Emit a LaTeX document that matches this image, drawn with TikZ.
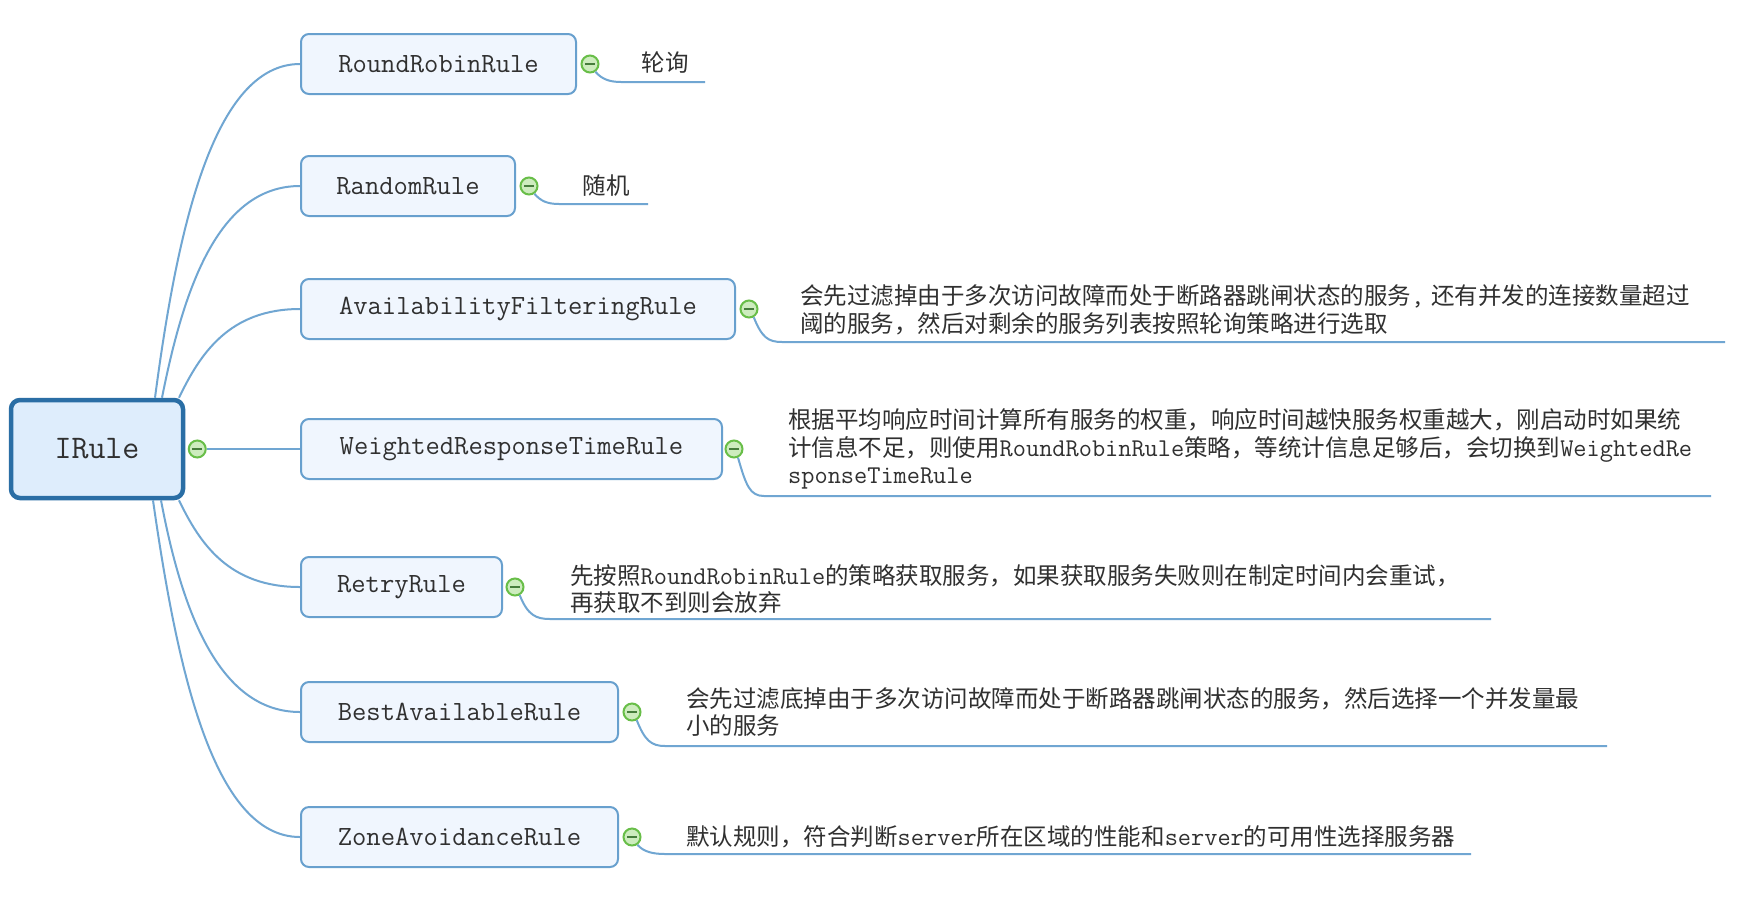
\documentclass[tikz,border=0pt]{standalone}
\usepackage{fontspec}
\newfontfamily\cjk{Noto Sans CJK SC}
\newfontfamily\lab{Latin Modern Mono}
\newcommand\mono[1]{{\lab\fontsize{25.6}{27.5}\selectfont #1}}
\definecolor{linec}{RGB}{112,166,210}
\definecolor{childborder}{RGB}{104,160,206}
\definecolor{childfill}{RGB}{240,246,254}
\definecolor{rootborder}{RGB}{42,110,165}
\definecolor{rootfill}{RGB}{222,237,252}
\definecolor{togring}{RGB}{104,190,72}
\definecolor{togfill}{RGB}{205,236,190}
\definecolor{togminus}{RGB}{70,125,60}
\definecolor{textc}{RGB}{48,48,48}
\begin{document}
\begin{tikzpicture}[x=1pt,y=-1pt,
  conn/.style={draw=linec, line width=2pt},
  child/.style={draw=childborder, fill=childfill, rounded corners=8pt, line width=2pt,
    minimum height=60pt, anchor=west, inner sep=0pt, text=textc,
    font=\lab\fontsize{27.8}{30}\selectfont},
  root/.style={draw=rootborder, fill=rootfill, rounded corners=9pt, line width=4.5pt,
    minimum width=172pt, minimum height=98pt, inner sep=0pt, text=textc,
    font=\lab\fontsize{33}{36}\selectfont},
  tog/.style={circle, draw=togring, fill=togfill, line width=2pt, minimum size=17pt, inner sep=0pt,
    path picture={\draw[togminus, line width=1.8pt]
      ([xshift=-5pt]path picture bounding box.center) -- ([xshift=5pt]path picture bounding box.center);}},
  desc/.style={anchor=west, align=left, inner sep=0pt, text=textc,
    font=\cjk\fontsize{23.5}{27.5}\selectfont},
  shortdesc/.style={anchor=center, inner sep=0pt, text=textc,
    font=\cjk\fontsize{23.5}{27.5}\selectfont}
]
\useasboundingbox[fill=white] (0,0) rectangle (1760,898);

% root
\node[root] (irule) at (97,449) {IRule};
\node[tog] (t0) at ([xshift=12pt]irule.east) {};

% children
\node[child, minimum width=275pt] (rr) at (300,64) {RoundRobinRule};
\node[child, minimum width=214pt] (rd) at (300,186) {RandomRule};
\node[child, minimum width=434pt] (av) at (300,309) {AvailabilityFilteringRule};
\node[child, minimum width=421pt] (wr) at (300,449) {WeightedResponseTimeRule};
\node[child, minimum width=201pt] (rt) at (300,587) {RetryRule};
\node[child, minimum width=317pt] (ba) at (300,712) {BestAvailableRule};
\node[child, minimum width=317pt] (za) at (300,837) {ZoneAvoidanceRule};

% connectors from root
\draw[conn] ([xshift=58pt]irule.north) .. controls (177,231) and (213,64) .. (rr.west);
\draw[conn] ([xshift=65pt]irule.north) .. controls (183,292) and (217,186) .. (rd.west);
\draw[conn] ([xshift=82pt]irule.north) .. controls (200,354) and (229,309) .. (av.west);
\draw[conn] (t0.east) -- (wr.west);
\draw[conn] ([xshift=82pt]irule.south) .. controls (200,544) and (229,587) .. (rt.west);
\draw[conn] ([xshift=64pt]irule.south) .. controls (181,606) and (217,712) .. (ba.west);
\draw[conn] ([xshift=56pt]irule.south) .. controls (177,668) and (213,837) .. (za.west);

% toggles
\node[tog] (t1) at ([xshift=13pt]rr.east) {};
\node[tog] (t2) at ([xshift=13pt]rd.east) {};
\node[tog] (t3) at ([xshift=13pt]av.east) {};
\node[tog] (t4) at ([xshift=11pt]wr.east) {};
\node[tog] (t5) at ([xshift=12pt]rt.east) {};
\node[tog] (t6) at ([xshift=13pt]ba.east) {};
\node[tog] (t7) at ([xshift=13pt]za.east) {};

% descriptions
\node[shortdesc] (d1) at (665,63) {轮询};
\node[shortdesc] (d2) at (606,186) {随机};
\node[desc] (d3) at (800,310) {会先过滤掉由于多次访问故障而处于断路器跳闸状态的服务\mono{,}\hspace{7pt}还有并发的连接数量超过\\阈的服务，然后对剩余的服务列表按照轮询策略进行选取};
\node[desc] (d4) at (788,449) {根据平均响应时间计算所有服务的权重，响应时间越快服务权重越大，刚启动时如果统\\计信息不足，则使用\mono{RoundRobinRule}策略，等统计信息足够后，会切换到\mono{WeightedRe}\\\mono{sponseTimeRule}};
\node[desc] (d5) at (570,589) {先按照\mono{RoundRobinRule}的策略获取服务，如果获取服务失败则在制定时间内会重试，\\再获取不到则会放弃};
\node[desc] (d6) at (686,712) {会先过滤底掉由于多次访问故障而处于断路器跳闸状态的服务，然后选择一个并发量最\\小的服务};
\node[desc] (d7) at (686,837) {默认规则，符合判断\mono{server}所在区域的性能和\mono{server}的可用性选择服务器};

% underline ends
\coordinate (e1) at (705,82);
\coordinate (e2) at (648,204);
\coordinate (e3) at (1725,342);
\coordinate (e4) at (1711,496);
\coordinate (e5) at (1491,619);
\coordinate (e6) at (1607,746);
\coordinate (e7) at (1471,854);

\draw[conn] (t1.-55) .. controls +(6,7) and +(-12,0) .. (621,82) -- (e1);
\draw[conn] (t2.-55) .. controls +(6,7) and +(-12,0) .. (559,204) -- (e2);
\draw[conn] (t3.-60) .. controls +(8,20) and +(-14,0) .. (782,342) -- (e3);
\draw[conn] (t4.-65) .. controls +(8,28) and +(-14,0) .. (764,496) -- (e4);
\draw[conn] (t5.-60) .. controls +(8,20) and +(-14,0) .. (550,619) -- (e5);
\draw[conn] (t6.-60) .. controls +(8,20) and +(-14,0) .. (665,746) -- (e6);
\draw[conn] (t7.-55) .. controls +(6,7) and +(-12,0) .. (665,854) -- (e7);
\end{tikzpicture}
\end{document}
